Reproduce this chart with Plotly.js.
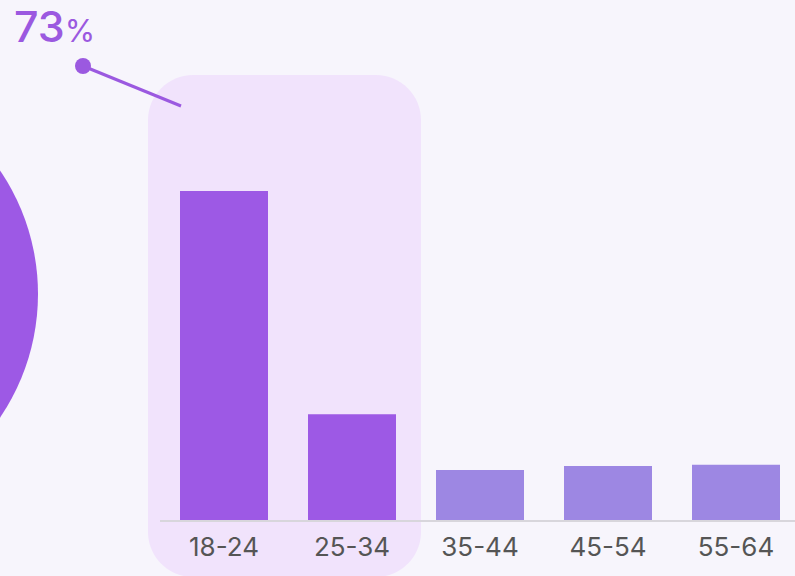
<!DOCTYPE html>
<html>
<head>
<meta charset="utf-8">
<script src="https://cdn.plot.ly/plotly-3.0.1.min.js"></script>
<style>
html,body{margin:0;padding:0;background:#F7F5FC;}
#chart{width:795px;height:576px;}
</style>
</head>
<body>
<div id="chart"></div>
<script>
// Data
const ageGroups = ["18-24", "25-34", "35-44", "45-54", "55-64"];
const shares = [55.4, 17.8, 8.4, 9.1, 9.3];
const highlighted = [true, true, false, false, false];
const highlightLabel = "73";

// Styles
const W = 795, H = 576;
const M = {l: 160, r: 0, t: 40, b: 56};
const plotW = W - M.l - M.r, plotH = H - M.t - M.b;
const px = x => (x - M.l) / plotW;          // pixel x -> paper x
const py = y => (H - M.b - y) / plotH;      // pixel y -> paper y

const strong = "#9D59E5", soft = "#9D87E3", accent = "#9B59E0";
const barColors = highlighted.map(h => h ? strong : soft);

function roundedRect(x0, y0, x1, y1, r) {
  const c = 0.45 * r;
  return "M" + px(x0 + r) + "," + py(y0) +
    " L" + px(x1 - r) + "," + py(y0) +
    " C" + px(x1 - r + (r - c)) + "," + py(y0) + " " + px(x1) + "," + py(y0 + c) + " " + px(x1) + "," + py(y0 + r) +
    " L" + px(x1) + "," + py(y1 - r) +
    " C" + px(x1) + "," + py(y1 - c) + " " + px(x1 - c) + "," + py(y1) + " " + px(x1 - r) + "," + py(y1) +
    " L" + px(x0 + r) + "," + py(y1) +
    " C" + px(x0 + c) + "," + py(y1) + " " + px(x0) + "," + py(y1 - c) + " " + px(x0) + "," + py(y1 - r) +
    " L" + px(x0) + "," + py(y0 + r) +
    " C" + px(x0) + "," + py(y0 + c) + " " + px(x0 + c) + "," + py(y0) + " " + px(x0 + r) + "," + py(y0) + " Z";
}

const trace = {
  type: "bar",
  x: ageGroups,
  y: shares,
  marker: {color: barColors, line: {width: 0}},
  hoverinfo: "skip"
};

const layout = {
  width: W, height: H,
  margin: M,
  paper_bgcolor: "#F7F5FC",
  plot_bgcolor: "rgba(0,0,0,0)",
  bargap: 0.3125,
  showlegend: false,
  font: {family: "Inter, 'Noto Sans', sans-serif", color: "#555555"},
  xaxis: {
    range: [-0.5, -0.5 + plotW / 128],
    showgrid: false, zeroline: false,
    showline: true, linecolor: "#D8D6DC", linewidth: 2,
    ticks: "", ticklabelstandoff: 3,
    tickfont: {size: 26, color: "#555555"},
    fixedrange: true
  },
  yaxis: {
    range: [0, plotH / (329 / 55.4)],
    visible: false, fixedrange: true
  },
  shapes: [
    {type: "path", xref: "paper", yref: "paper", layer: "below",
     path: roundedRect(148, 75, 421, 577, 45),
     fillcolor: "#F1E3FC", line: {width: 0}},
    {type: "circle", xref: "paper", yref: "paper", layer: "above",
     x0: px(-182 - 220), x1: px(-182 + 220), y0: py(294 + 220), y1: py(294 - 220),
     fillcolor: strong, line: {width: 0}},
    {type: "line", xref: "paper", yref: "paper",
     x0: px(83), y0: py(66), x1: px(181), y1: py(106),
     line: {color: accent, width: 3}},
    {type: "circle", xref: "paper", yref: "paper",
     x0: px(75), x1: px(91), y0: py(74), y1: py(58),
     fillcolor: accent, line: {width: 0}}
  ],
  annotations: [
    {xref: "paper", yref: "paper", x: px(12), y: py(26), xanchor: "left", yanchor: "middle",
     showarrow: false,
     text: "<span style='font-weight:500'>" + highlightLabel + "</span><span style='font-size:31px'>%</span>",
     font: {size: 43, color: accent, family: "Inter, sans-serif"}}
  ]
};

Plotly.newPlot("chart", [trace], layout, {displayModeBar: false, staticPlot: true});
</script>
</body>
</html>
